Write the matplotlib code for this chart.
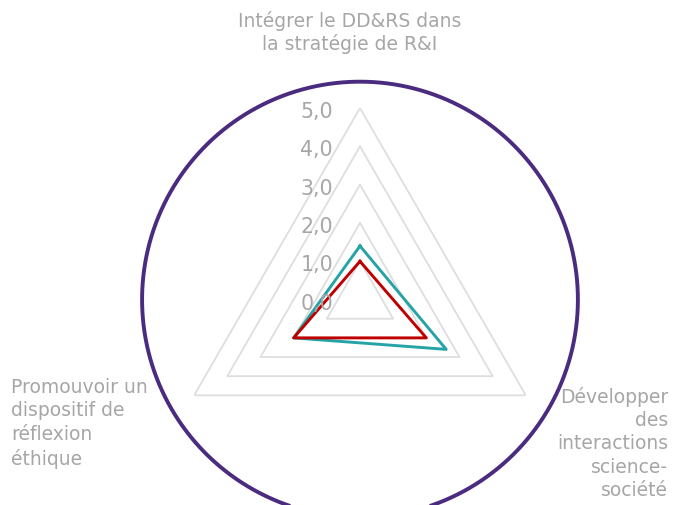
import numpy as np
import matplotlib
matplotlib.use("Agg")
import matplotlib.pyplot as plt

categories = ["Intégrer le DD&RS dans\nla stratégie de R&I",
              "Développer\ndes\ninteractions\nscience-\nsociété",
              "Promouvoir un\ndispositif de\nréflexion\néthique"]
serie_teal = [1.4, 2.6, 2.0]
serie_red = [1.0, 2.0, 2.0]
levels = [0, 1, 2, 3, 4, 5]
level_labels = ["0,0", "1,0", "2,0", "3,0", "4,0", "5,0"]

gray_txt = "#A6A6A6"
fig = plt.figure(figsize=(6.74, 5.06), dpi=100)
ax = fig.add_axes([0.2500, 0.0275, 0.5682, 0.7569], projection="polar")
ax.set_theta_offset(np.pi / 2)
ax.set_theta_direction(-1)
ax.set_ylim(0, 5)
ax.grid(False)
ax.spines["polar"].set_visible(False)
ax.set_xticks([])
ax.set_yticks([])
ax.patch.set_alpha(0)

n = len(categories)
ang = np.linspace(0, 2 * np.pi, n, endpoint=False)
ang_c = np.append(ang, ang[0])

# triangular grid
for lv in levels[1:]:
    ax.plot(ang_c, [lv] * (n + 1), color="#DEDEDE", lw=1.3, zorder=1)

# outer purple circle
t = np.linspace(0, 2 * np.pi, 400)
ax.plot(t, [5.69] * len(t), color="#4B2B7F", lw=2.8, clip_on=False,
        solid_capstyle="butt", zorder=0)

ax.plot(ang_c, serie_teal + serie_teal[:1], color="#26A3A6", lw=2.1, zorder=3)
ax.plot(ang_c, serie_red + serie_red[:1], color="#C00000", lw=2.1, zorder=4)

for lv, lab in zip(levels, level_labels):
    ax.annotate(lab, xy=(0, lv), xytext=(-27, -3), textcoords="offset pixels",
                ha="right", va="center", fontsize=14.8, color=gray_txt, zorder=5)

fig.text(350 / 674, 1 - 11 / 506, categories[0], ha="center", va="top",
         fontsize=13.5, color=gray_txt, linespacing=1.2)
fig.text(668 / 674, 1 - 387 / 506, categories[1], ha="right", va="top",
         fontsize=13.5, color=gray_txt, linespacing=1.28)
fig.text(11 / 674, 1 - 378 / 506, categories[2], ha="left", va="top",
         fontsize=13.5, color=gray_txt, linespacing=1.3)

fig.savefig("out.png", dpi=100)
